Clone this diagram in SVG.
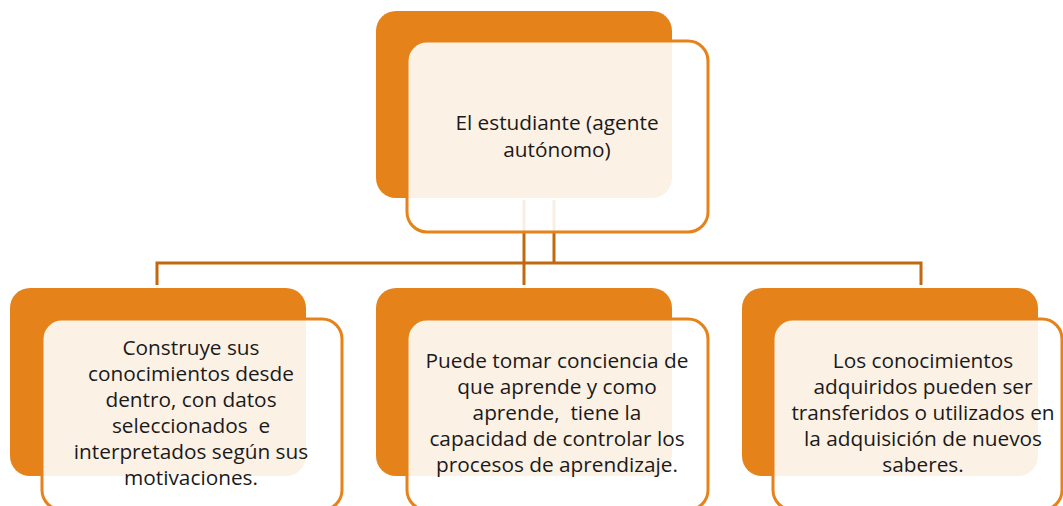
<svg xmlns="http://www.w3.org/2000/svg" width="1063" height="506" viewBox="0 0 1063 506">
<style>
.back{fill:#E5821A;}
.front{fill:#FFFFFF;fill-opacity:0.89;stroke:#E5821A;stroke-width:3;}
.conn{fill:none;stroke:#C0690F;stroke-width:3;}
.t{font-family:"Open Sans","Liberation Sans",sans-serif;font-size:20.8px;fill:#1A1A1A;text-anchor:middle;}
</style>
<rect width="1063" height="506" fill="#FFFFFF"/>
<g id="connectors">
<path class="conn" d="M524,200 V285"/>
<path class="conn" d="M554,200 V263"/>
<path class="conn" d="M157,285 V263 H921 V285"/>
</g>
<g id="node-top">
<rect class="back" x="376" y="11" width="296" height="187" rx="20"/>
<rect class="front" x="407" y="41" width="301" height="191" rx="20"/>
<text class="t" x="557" y="130">El estudiante (agente</text>
<text class="t" x="557" y="157">autónomo)</text>
</g>
<g id="node-left">
<rect class="back" x="10" y="288" width="296" height="188" rx="20"/>
<rect class="front" x="42" y="319" width="300" height="191" rx="20"/>
<text class="t" x="191" y="355">Construye sus</text>
<text class="t" x="191" y="381">conocimientos desde</text>
<text class="t" x="191" y="407">dentro, con datos</text>
<text class="t" x="191" y="433" xml:space="preserve">seleccionados  e</text>
<text class="t" x="191" y="459">interpretados según sus</text>
<text class="t" x="191" y="485">motivaciones.</text>
</g>
<g id="node-middle">
<rect class="back" x="376" y="288" width="296" height="188" rx="20"/>
<rect class="front" x="407" y="319" width="301" height="191" rx="20"/>
<text class="t" x="557" y="368">Puede tomar conciencia de</text>
<text class="t" x="557" y="394">que aprende y como</text>
<text class="t" x="557" y="420" xml:space="preserve">aprende,  tiene la</text>
<text class="t" x="557" y="446">capacidad de controlar los</text>
<text class="t" x="557" y="472">procesos de aprendizaje.</text>
</g>
<g id="node-right">
<rect class="back" x="742" y="288" width="296" height="188" rx="20"/>
<rect class="front" x="773" y="319" width="289" height="191" rx="20"/>
<text class="t" x="923" y="368">Los conocimientos</text>
<text class="t" x="923" y="394">adquiridos pueden ser</text>
<text class="t" x="923" y="420">transferidos o utilizados en</text>
<text class="t" x="923" y="446">la adquisición de nuevos</text>
<text class="t" x="923" y="472">saberes.</text>
</g>
</svg>
